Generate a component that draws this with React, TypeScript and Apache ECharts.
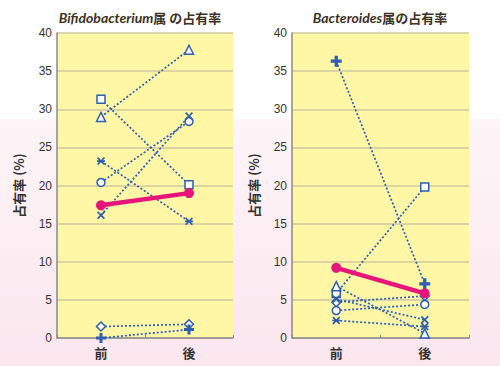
import React, { useEffect, useRef } from "react";
import * as echarts from "echarts";

const categories = ["前", "後"];
const yTicks = { min: 0, max: 40, interval: 5 };

// Bifidobacterium panel
const bifTriangle = [29.0, 37.8];
const bifSquare = [31.3, 20.1];
const bifStar = [23.2, 15.3];
const bifCircle = [20.4, 28.4];
const bifCross = [16.1, 29.1];
const bifDiamond = [1.5, 1.8];
const bifPlus = [0.0, 1.1];
const bifMean = [17.4, 19.0];

// Bacteroides panel
const bacPlus = [36.3, 7.1];
const bacSquare = [5.85, 19.8];
const bacTriangle = [6.8, 0.6];
const bacDiamond = [4.7, 5.5];
const bacCross = [5.1, 2.4];
const bacCircle = [3.6, 4.4];
const bacStar = [2.3, 1.5];
const bacMean = [9.2, 5.85];

const BLUE = "#2d5eb0";
const PINK = "#e6157b";

const PLUS = "path://M3.5,0H6.5V3.5H10V6.5H6.5V10H3.5V6.5H0V3.5H3.5Z";
const CROSS =
  "path://M0,1.5L1.5,0L5,3.5L8.5,0L10,1.5L6.5,5L10,8.5L8.5,10L5,6.5L1.5,10L0,8.5L3.5,5Z";
const STAR = CROSS + "M0,4H10V6H0Z";

function mk(
  data: number[],
  symbol: string,
  filled: boolean,
  size: number,
  idx: number
) {
  return {
    type: "line",
    xAxisIndex: idx,
    yAxisIndex: idx,
    data,
    symbol,
    symbolSize: size,
    lineStyle: { color: BLUE, width: 1.7, type: [2, 2] },
    itemStyle: filled
      ? { color: BLUE, borderWidth: 0 }
      : { color: "#ffffff", borderColor: BLUE, borderWidth: 1.5 },
    z: 3,
  };
}

function mean(data: number[], idx: number) {
  return {
    type: "line",
    xAxisIndex: idx,
    yAxisIndex: idx,
    data,
    symbol: "circle",
    symbolSize: 10,
    lineStyle: { color: PINK, width: 4.5 },
    itemStyle: { color: PINK },
    z: 5,
  };
}

function xAxis(idx: number) {
  return {
    type: "category",
    gridIndex: idx,
    data: categories,
    boundaryGap: true,
    axisLine: { lineStyle: { color: "#8a8a8a", width: 1.5 } },
    axisTick: { show: true, inside: true, length: 3, lineStyle: { color: "#8a8a8a" } },
    axisLabel: {
      color: "#333",
      fontSize: 13,
      fontWeight: "bold",
      margin: 8,
      fontFamily: "Noto Sans CJK JP",
    },
  };
}

function yAxis(idx: number) {
  return {
    type: "value",
    gridIndex: idx,
    min: yTicks.min,
    max: yTicks.max,
    interval: yTicks.interval,
    name: "占有率 (%)",
    nameLocation: "middle",
    nameRotate: 90,
    nameGap: 32,
    nameTextStyle: {
      color: "#333",
      fontSize: 13,
      fontWeight: "bold",
      fontFamily: "Noto Sans CJK JP",
    },
    axisLine: { show: true, lineStyle: { color: "#8a8a8a", width: 1.5 } },
    axisTick: { show: false },
    axisLabel: {
      color: "#333",
      fontSize: 12,
      margin: 5,
      fontFamily: "Liberation Sans",
    },
    splitLine: { lineStyle: { color: "#cfc9a0", width: 1.5 } },
  };
}

const richTitle = {
  i: {
    fontFamily: "Lato",
    fontStyle: "italic",
    fontWeight: "bold",
    fontSize: 14,
    color: "#3d3024",
  },
  j: {
    fontFamily: "Noto Sans CJK JP",
    fontWeight: "bold",
    fontSize: 13,
    color: "#3d3024",
  },
};

export default function App() {
  const ref = useRef<HTMLDivElement>(null);
  useEffect(() => {
    document.body.style.margin = "0";
    if (!ref.current) return;
    const chart = echarts.init(ref.current, undefined, { renderer: "svg" });
    chart.setOption({
      animation: false,
      backgroundColor: "transparent",
      title: [
        {
          text: "{i|Bifidobacterium}{j|属 の占有率}",
          left: 135,
          textAlign: "center",
          top: 5,
          textStyle: { rich: richTitle },
        },
        {
          text: "{i|Bacteroides}{j|属の占有率}",
          left: 375,
          textAlign: "center",
          top: 5,
          textStyle: { rich: richTitle },
        },
      ],
      grid: [
        { left: 57, top: 33, width: 176, height: 305, show: true, backgroundColor: "#fff6a6", borderWidth: 0 },
        { left: 292, top: 33, width: 177, height: 305, show: true, backgroundColor: "#fff6a6", borderWidth: 0 },
      ],
      xAxis: [xAxis(0), xAxis(1)],
      yAxis: [yAxis(0), yAxis(1)],
      series: [
        mk(bifTriangle, "triangle", false, 9, 0),
        mk(bifSquare, "rect", false, 8, 0),
        mk(bifStar, STAR, true, 8, 0),
        mk(bifCircle, "circle", false, 8, 0),
        mk(bifCross, CROSS, true, 8, 0),
        mk(bifDiamond, "diamond", false, 9, 0),
        mk(bifPlus, PLUS, true, 10, 0),
        mean(bifMean, 0),
        mk(bacPlus, PLUS, true, 11, 1),
        mk(bacSquare, "rect", false, 8, 1),
        mk(bacTriangle, "triangle", false, 9, 1),
        mk(bacDiamond, "diamond", false, 9, 1),
        mk(bacCross, CROSS, true, 8, 1),
        mk(bacCircle, "circle", false, 8, 1),
        mk(bacStar, STAR, true, 8, 1),
        mean(bacMean, 1),
      ],
    });
    return () => chart.dispose();
  }, []);
  return (
    <div
      ref={ref}
      style={{
        width: 500,
        height: 366,
        background:
          "linear-gradient(to bottom, #ffffff 0px, #ffffff 119px, #fdf5f8 119px, #fbe6ee 366px)",
      }}
    />
  );
}
